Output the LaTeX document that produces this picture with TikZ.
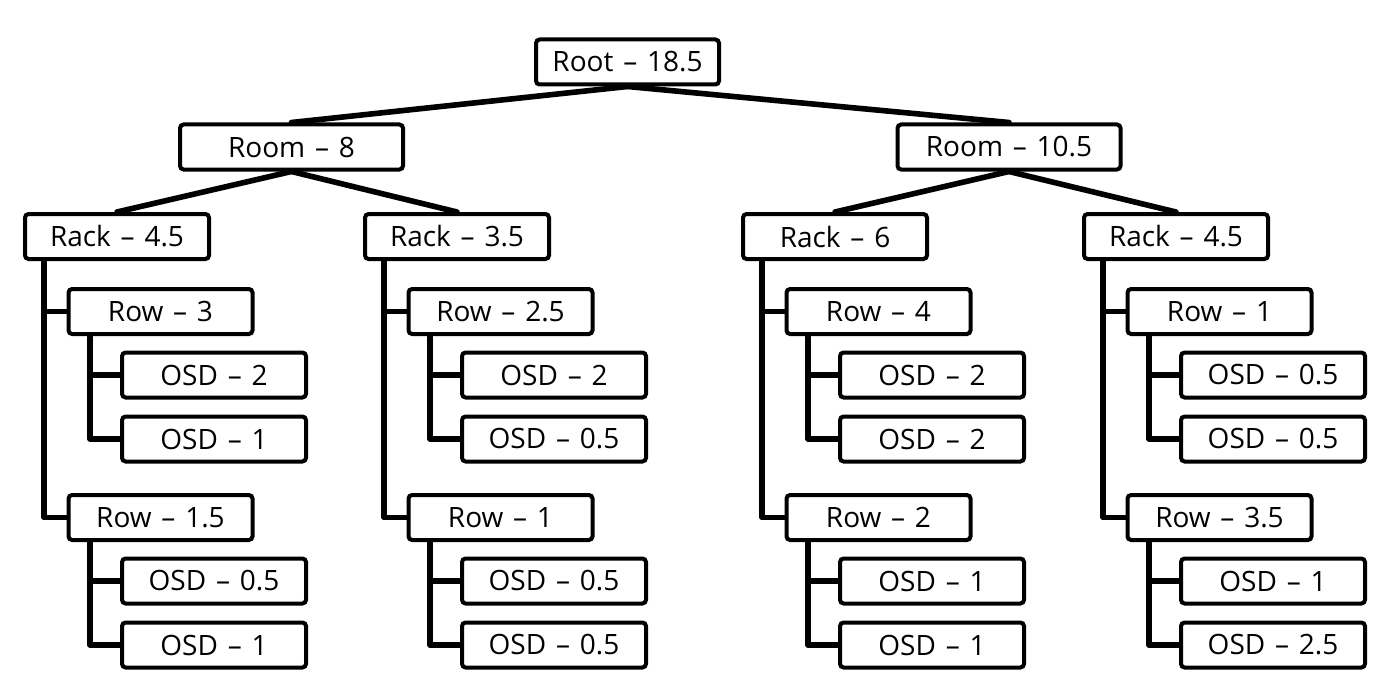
\documentclass[tikz,border=0pt]{standalone}
\usepackage{fontspec}
\setmainfont{Open Sans}
\usetikzlibrary{calc}
\tikzset{
  box/.style={draw=black, line width=2pt, rounded corners=1.8pt, fill=white,
    minimum height=22.5pt, inner sep=0pt, font=\fontsize{14}{16}\selectfont},
  rootbox/.style={box, minimum width=91.5pt},
  roombox/.style={box, minimum width=111.5pt},
  rackbox/.style={box, minimum width=92pt},
  leafbox/.style={box, minimum width=92pt},
  link/.style={line width=2.8pt, line cap=round, line join=round},
}
\newcommand{\dsh}{\hspace{0.35em}–\hspace{0.35em}}
\begin{document}
\begin{tikzpicture}[x=0.5pt, y=-0.5pt]
\useasboundingbox (0,0) rectangle (1386,690);
% top levels
\node[rootbox] (root) at (627.5,62) {Root\dsh 18.5};
\node[roombox] (roomA) at (291.5,147) {Room\dsh 8};
\node[roombox] (roomB) at (1009,147) {Room\dsh 10.5};
% racks
\node[rackbox] (rackA) at (117,236.5) {Rack\dsh 4.5};
\node[rackbox] (rackB) at (457,236.5) {Rack\dsh 3.5};
\node[rackbox] (rackC) at (835,236.5) {Rack\dsh 6};
\node[rackbox] (rackD) at (1176,236.5) {Rack\dsh 4.5};
% rows
\node[leafbox] (rowA1) at (160.5,311.5) {Row\dsh 3};
\node[leafbox] (rowA2) at (160.5,517.5) {Row\dsh 1.5};
\node[leafbox] (rowB1) at (500.5,311.5) {Row\dsh 2.5};
\node[leafbox] (rowB2) at (500.5,517.5) {Row\dsh 1};
\node[leafbox] (rowC1) at (878.5,311.5) {Row\dsh 4};
\node[leafbox] (rowC2) at (878.5,517.5) {Row\dsh 2};
\node[leafbox] (rowD1) at (1219.5,311.5) {Row\dsh 1};
\node[leafbox] (rowD2) at (1219.5,517.5) {Row\dsh 3.5};
% osds
\node[leafbox] (osdA1) at (214,375) {OSD\dsh 2};
\node[leafbox] (osdA2) at (214,439) {OSD\dsh 1};
\node[leafbox] (osdA3) at (214,581) {OSD\dsh 0.5};
\node[leafbox] (osdA4) at (214,645) {OSD\dsh 1};
\node[leafbox] (osdB1) at (554,375) {OSD\dsh 2};
\node[leafbox] (osdB2) at (554,439) {OSD\dsh 0.5};
\node[leafbox] (osdB3) at (554,581) {OSD\dsh 0.5};
\node[leafbox] (osdB4) at (554,645) {OSD\dsh 0.5};
\node[leafbox] (osdC1) at (932,375) {OSD\dsh 2};
\node[leafbox] (osdC2) at (932,439) {OSD\dsh 2};
\node[leafbox] (osdC3) at (932,581) {OSD\dsh 1};
\node[leafbox] (osdC4) at (932,645) {OSD\dsh 1};
\node[leafbox] (osdD1) at (1273,375) {OSD\dsh 0.5};
\node[leafbox] (osdD2) at (1273,439) {OSD\dsh 0.5};
\node[leafbox] (osdD3) at (1273,581) {OSD\dsh 1};
\node[leafbox] (osdD4) at (1273,645) {OSD\dsh 2.5};
% connectors
\draw[link] (root.south) -- (roomA.north);
\draw[link] (root.south) -- (roomB.north);
\draw[link] (roomA.south) -- (rackA.north);
\draw[link] (roomA.south) -- (rackB.north);
\draw[link] (roomB.south) -- (rackC.north);
\draw[link] (roomB.south) -- (rackD.north);
\foreach \c in {A,B,C,D}{
  \draw[link] ($(rack\c.south)+(-73,0)$) |- (row\c1.west);
  \draw[link] ($(rack\c.south)+(-73,0)$) |- (row\c2.west);
  \draw[link] ($(row\c1.south)+(-70.5,0)$) |- (osd\c1.west);
  \draw[link] ($(row\c1.south)+(-70.5,0)$) |- (osd\c2.west);
  \draw[link] ($(row\c2.south)+(-70.5,0)$) |- (osd\c3.west);
  \draw[link] ($(row\c2.south)+(-70.5,0)$) |- (osd\c4.west);
}
\end{tikzpicture}
\end{document}
